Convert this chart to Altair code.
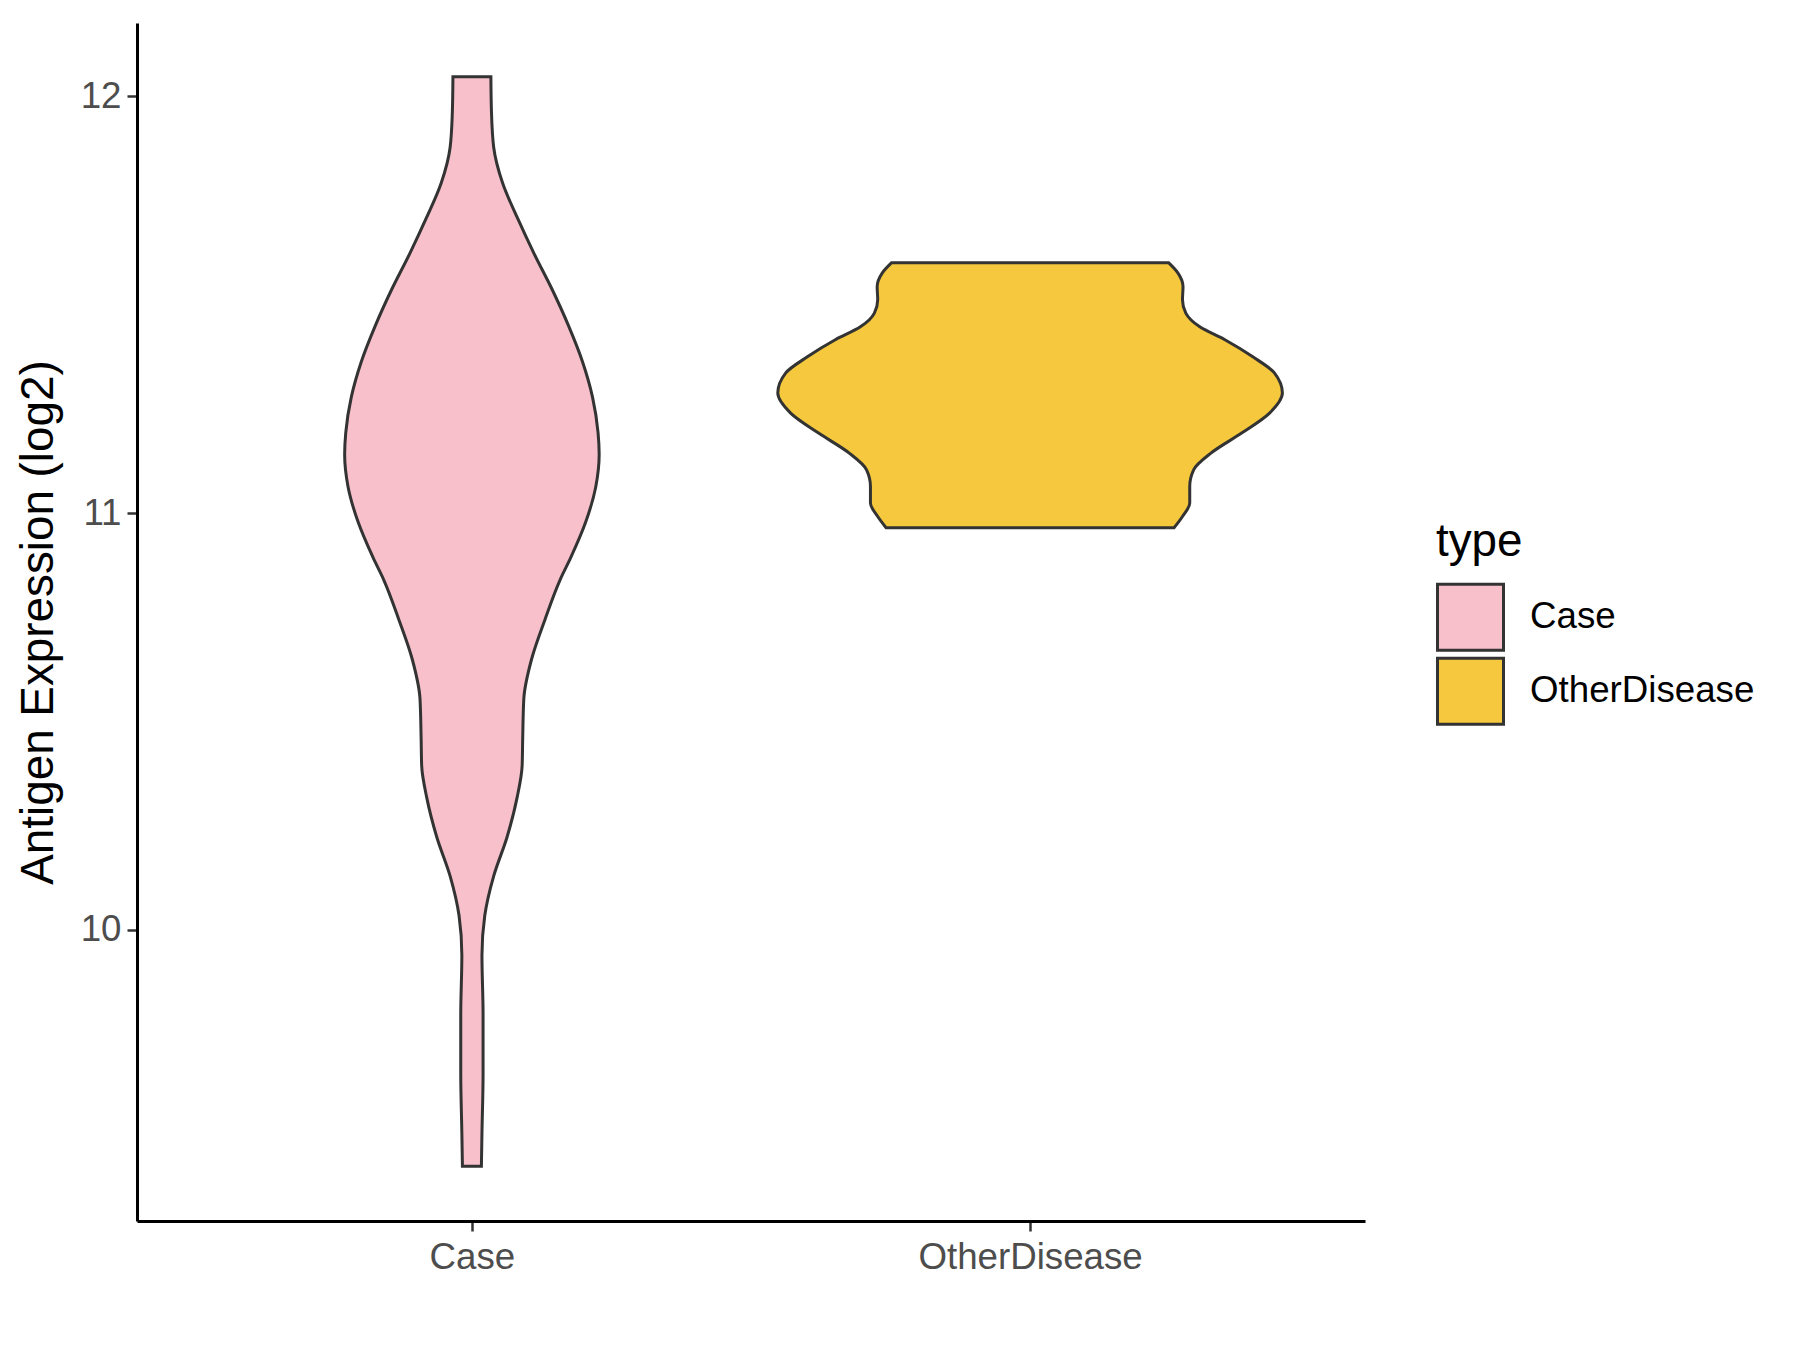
import altair as alt
import pandas as pd

# categories and colours
categories = ["Case", "OtherDisease"]
colors = ["#F7C0CB", "#F5C83E"]

# violin outlines: expression value and half-width (x units)
case_value = [12.047, 11.964, 11.878, 11.792, 11.707, 11.621, 11.536, 11.450, 11.364,
              11.279, 11.193, 11.141, 11.064, 10.979, 10.893, 10.840, 10.745, 10.650,
              10.555, 10.460, 10.394, 10.318, 10.223, 10.129, 10.034, 9.939, 9.797,
              9.655, 9.512, 9.433]
case_halfwidth = [0.034, 0.035, 0.039, 0.055, 0.082, 0.112, 0.144, 0.173, 0.198,
                  0.216, 0.226, 0.228, 0.222, 0.204, 0.177, 0.158, 0.131, 0.107,
                  0.093, 0.091, 0.090, 0.081, 0.063, 0.039, 0.023, 0.018, 0.020,
                  0.020, 0.018, 0.017]

od_value = [11.601, 11.576, 11.543, 11.512, 11.480, 11.447, 11.416, 11.375, 11.336,
            11.288, 11.240, 11.192, 11.144, 11.104, 11.064, 11.024, 10.992, 10.965]
od_halfwidth = [0.248, 0.265, 0.274, 0.273, 0.279, 0.304, 0.349, 0.399, 0.438,
                0.452, 0.429, 0.379, 0.324, 0.293, 0.286, 0.286, 0.273, 0.258]

y_ticks = [10, 11, 12]

rows = []
for v, h in zip(case_value, case_halfwidth):
    rows.append({"type": categories[0], "pos": 1, "value": v, "hw": h})
for v, h in zip(od_value, od_halfwidth):
    rows.append({"type": categories[1], "pos": 2, "value": v, "hw": h})
df = pd.DataFrame(rows).sort_values(["type", "value"]).reset_index(drop=True)

FONT = "Liberation Sans"
label_expr = "datum.value == 1 ? '%s' : '%s'" % (categories[0], categories[1])

chart = (
    alt.Chart(df)
    .transform_calculate(lo="datum.pos - datum.hw", hi="datum.pos + datum.hw")
    .mark_area(orient="horizontal", interpolate="monotone", stroke="#333333",
               strokeWidth=3, opacity=1)
    .encode(
        y=alt.Y("value:Q",
                scale=alt.Scale(domain=[9.3015, 12.176], nice=False, zero=False),
                axis=alt.Axis(title="Antigen Expression (log2)", values=y_ticks,
                              format="d", labelPadding=6, titlePadding=18)),
        x=alt.X("lo:Q", scale=alt.Scale(domain=[0.4, 2.6], nice=False, zero=False),
                axis=alt.Axis(title=None, values=[1, 2], labelExpr=label_expr,
                              labelPadding=8, labelFlush=False, labelLimit=0)),
        x2="hi:Q",
        color=alt.Color("type:N",
                        scale=alt.Scale(domain=categories, range=colors),
                        legend=alt.Legend(title="type", orient="none",
                                          legendX=1299, legendY=497, labelLimit=0)),
    )
    .properties(width=1228, height=1198,
                autosize=alt.AutoSizeParams(type="none"),
                padding={"left": 129, "top": 15, "right": 427, "bottom": 121})
    .configure_view(stroke=None)
    .configure_axis(grid=False, domainColor="black", domainWidth=3,
                    tickColor="#333333", tickWidth=2.5, tickSize=10,
                    labelFont=FONT, labelFontSize=36.7, labelColor="#4D4D4D",
                    titleFont=FONT, titleFontSize=45.8, titleColor="black",
                    titleFontWeight="normal")
    .configure_legend(titleFont=FONT, titleFontSize=45.8, titleFontWeight="normal",
                      titleColor="black", labelFont=FONT, labelFontSize=36.7,
                      labelColor="black", symbolType="square", symbolSize=4356,
                      symbolStrokeColor="#333333", symbolStrokeWidth=3,
                      symbolOpacity=1, rowPadding=-7, labelOffset=25, titlePadding=17)
)

chart.save("out.html", embed_options={"renderer": "svg", "actions": False})
